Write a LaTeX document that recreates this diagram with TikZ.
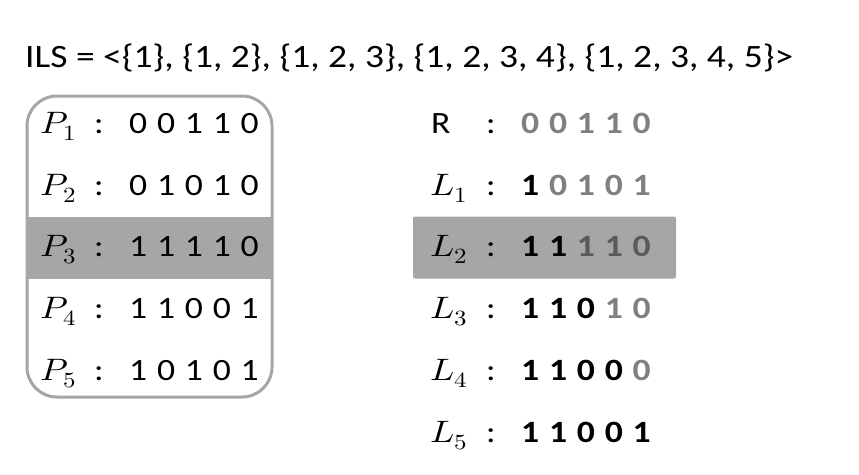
\documentclass[tikz,border=0pt]{standalone}
\usepackage{fontspec}
\usepackage{unicode-math}
\setmainfont{Carlito}
\setmathfont{Latin Modern Math}
\definecolor{boxgray}{HTML}{A6A6A6}
\definecolor{bitgray}{HTML}{808080}
\definecolor{bitdark}{HTML}{5A5A5A}
\newcommand{\bgap}{\hspace{8.5pt}}
\newcommand{\gr}[1]{\textcolor{bitgray}{#1}}
\newcommand{\dk}[1]{\textcolor{bitdark}{#1}}
\tikzset{
	txt/.style={anchor=base west, inner sep=0pt, font=\fontsize{31}{36}\selectfont, xscale=1.15, transform shape},
	bold/.style={txt, font=\fontsize{31}{36}\selectfont\bfseries},
	band/.style={fill=boxgray, draw=none, inner sep=0pt, minimum width=#1, minimum height=62}
}
\begin{document}
\begin{tikzpicture}[x=1pt, y=-1pt]
	\useasboundingbox (0,0) rectangle (859,474);
	\node (ils) [txt, font=\fontsize{32.6}{38}\selectfont] at (25,67) {ILS = <\{1\}, \{1, 2\}, \{1, 2, 3\}, \{1, 2, 3, 4\}, \{1, 2, 3, 4, 5\}>};
	\node (b3) [band=245] at (149.5,248) {};
	\node (bl2) [band=263, rounded corners=2] at (544.5,247.5) {};
	\node (pbox) [draw=boxgray, line width=3, rounded corners=30, inner sep=0pt, minimum width=245, minimum height=301] at (149.5,246.5) {};
	\node (p1) [txt] at (40,133) {$P_1$};
	\node (p2) [txt] at (40,195) {$P_2$};
	\node (p3) [txt] at (40,256) {$P_3$};
	\node (p4) [txt] at (40,318) {$P_4$};
	\node (p5) [txt] at (40,380) {$P_5$};
	\node (pc1) [txt] at (94,133) {:};
	\node (pc2) [txt] at (94,195) {:};
	\node (pc3) [txt] at (94,256) {:};
	\node (pc4) [txt] at (94,318) {:};
	\node (pc5) [txt] at (94,380) {:};
	\node (pv1) [txt] at (129,133) {0\bgap0\bgap1\bgap1\bgap0};
	\node (pv2) [txt] at (129,195) {0\bgap1\bgap0\bgap1\bgap0};
	\node (pv3) [txt] at (129,256) {1\bgap1\bgap1\bgap1\bgap0};
	\node (pv4) [txt] at (129,318) {1\bgap1\bgap0\bgap0\bgap1};
	\node (pv5) [txt] at (129,380) {1\bgap0\bgap1\bgap0\bgap1};
	\node (r) [txt] at (431,133) {R};
	\node (l1) [txt] at (430,195) {$L_1$};
	\node (l2) [txt] at (430,256) {$L_2$};
	\node (l3) [txt] at (430,318) {$L_3$};
	\node (l4) [txt] at (430,380) {$L_4$};
	\node (l5) [txt] at (430,442) {$L_5$};
	\node (rc) [txt] at (486,133) {:};
	\node (lc1) [txt] at (486,195) {:};
	\node (lc2) [txt] at (486,256) {:};
	\node (lc3) [txt] at (486,318) {:};
	\node (lc4) [txt] at (486,380) {:};
	\node (lc5) [txt] at (486,442) {:};
	\node (rv) [bold] at (521,133) {\gr{0\bgap0\bgap1\bgap1\bgap0}};
	\node (lv1) [bold] at (521,195) {1\bgap\gr{0\bgap1\bgap0\bgap1}};
	\node (lv2) [bold] at (521,256) {1\bgap1\bgap\dk{1\bgap1\bgap0}};
	\node (lv3) [bold] at (521,318) {1\bgap1\bgap0\bgap\gr{1\bgap0}};
	\node (lv4) [bold] at (521,380) {1\bgap1\bgap0\bgap0\bgap\gr{0}};
	\node (lv5) [bold] at (521,442) {1\bgap1\bgap0\bgap0\bgap1};
\end{tikzpicture}
\end{document}
